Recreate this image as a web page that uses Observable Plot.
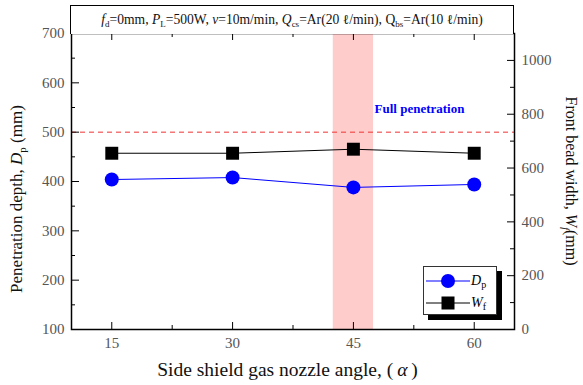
<!DOCTYPE html>
<html><head><meta charset="utf-8">
<script src="https://cdn.jsdelivr.net/npm/d3@7"></script>
<script src="https://cdn.jsdelivr.net/npm/@observablehq/plot@0.6"></script>
<style>
body{margin:0;background:#fff;font-family:"Liberation Serif",serif;}
#wrap{position:relative;width:583px;height:385px;}
#title{position:absolute;left:70px;top:5px;width:444px;height:29px;box-sizing:border-box;border:1.5px solid #000;border-bottom:none;font-size:13.6px;text-align:center;line-height:27px;color:#111;background:#fff;}
#title sub{font-size:9px;vertical-align:-3px;line-height:0;}
#legend{position:absolute;left:423px;top:266px;width:74px;height:49px;box-sizing:border-box;border:1px solid #333;background:#fff;box-shadow:5px 5px 0 #000;font-size:14px;}
.row{position:absolute;left:2px;height:20px;display:flex;align-items:center;}
.row i{font-style:italic;margin-left:1px;}
.row sub{font-size:10px;font-style:normal;vertical-align:-3px;line-height:0;}
</style></head>
<body>
<div id="wrap">
  <div id="chart"></div>
  <div id="title"><i>f</i><sub>d</sub>=0mm, <i>P</i><sub>L</sub>=500W, <i>v</i>=10m/min, <i>Q</i><sub>cs</sub>=Ar(20 ℓ/min), Q<sub>bs</sub>=Ar(10 ℓ/min)</div>
  <div id="legend">
    <div class="row" style="top:4px"><svg width="44" height="16"><line x1="0" y1="8" x2="44" y2="8" stroke="blue" stroke-width="1"/><circle cx="22" cy="8" r="7" fill="blue"/></svg><span><i>D</i><sub>p</sub></span></div>
    <div class="row" style="top:26px"><svg width="44" height="16"><line x1="0" y1="8" x2="44" y2="8" stroke="#000" stroke-width="1"/><rect x="15.5" y="1.5" width="13" height="13" fill="#000"/></svg><span><i>W</i><sub>f</sub></span></div>
  </div>
</div>
<script>
// ---- data ----
const angles = [15, 30, 45, 60];
const depth = [404, 408, 388, 394];          // Dp (mm), left axis
const beadWidth = [655, 655, 670, 655];      // Wf (mm), right axis
const xTicks = [15, 30, 45, 60];
const xMinorTicks = [22.5, 37.5, 52.5];
const leftTicks = [100, 200, 300, 400, 500, 600, 700];
const leftMinorTicks = [150, 250, 350, 450, 550, 650];
const rightTicks = [0, 200, 400, 600, 800, 1000];
const rightMinorTicks = [100, 300, 500, 700, 900];
const fullPenetration = 500;
const band = {x1: 42.5, x2: 47.5};

// ---- layout ----
const W = 583, H = 385, mL = 71, mR = 69, mT = 33, mB = 56;
const innerW = W - mL - mR, innerH = H - mT - mB;
const rightMax = 1100;
const toLeft = w => 100 + w * 600 / rightMax;
const fromLeft = v => String(Math.round((v - 100) * rightMax / 600));

const rows = angles.map((a, i) => ({angle: a, dp: depth[i], wf: toLeft(beadWidth[i])}));

const chart = Plot.plot({
  width: W, height: H, marginLeft: mL, marginRight: mR, marginTop: mT, marginBottom: mB,
  x: {domain: [10, 65]},
  y: {domain: [100, 700]},
  style: {fontFamily: "Liberation Serif", fontSize: "15px", background: "#fff", color: "#000"},
  marks: [
    Plot.rect([band], {x1: "x1", x2: "x2", fill: "#ffcccc"}),
    Plot.ruleY([fullPenetration], {stroke: "#ee3333", strokeDasharray: "5,4", strokeWidth: 1}),
    Plot.text([fullPenetration], {x: () => band.x2, y: d => d, text: () => "Full penetration", textAnchor: "start", dx: 1, dy: -23, fill: "blue", fontWeight: "bold", fontSize: 13}),
    Plot.line(rows, {x: "angle", y: "wf", stroke: "#000", strokeWidth: 1}),
    Plot.dot(rows, {x: "angle", y: "wf", symbol: "square", r: 7.3, fill: "#000"}),
    Plot.line(rows, {x: "angle", y: "dp", stroke: "blue", strokeWidth: 1}),
    Plot.dot(rows, {x: "angle", y: "dp", symbol: "circle", r: 7, fill: "blue"}),
    Plot.frame({stroke: "#000", strokeWidth: 1.5}),
    Plot.tickY(leftTicks, {insetRight: innerW - 8, stroke: "#000"}),
    Plot.tickY(leftMinorTicks, {insetRight: innerW - 4, stroke: "#000"}),
    Plot.tickY(rightTicks.map(toLeft), {insetLeft: innerW - 7, stroke: "#000"}),
    Plot.tickY(rightMinorTicks.map(toLeft), {insetLeft: innerW - 4, stroke: "#000"}),
    Plot.tickX(xTicks, {insetTop: innerH - 7, stroke: "#000"}),
    Plot.tickX(xTicks, {insetBottom: innerH - 7, stroke: "#000"}),
    Plot.tickX(xMinorTicks, {insetTop: innerH - 4, stroke: "#000"}),
    Plot.tickX(xMinorTicks, {insetBottom: innerH - 4, stroke: "#000"}),
    Plot.axisY(leftTicks, {anchor: "left", tickSize: 0, tickPadding: 7, label: null, fill: "#555"}),
    Plot.axisY(rightTicks.map(toLeft), {anchor: "right", tickSize: 0, tickPadding: 7, tickFormat: fromLeft, label: null, fill: "#555"}),
    Plot.axisX(xTicks, {anchor: "bottom", tickSize: 0, tickPadding: 8, label: null, fill: "#555"})
  ]
});
document.getElementById("chart").appendChild(chart);

// ---- axis titles with italics / subscripts ----
const svg = d3.select(chart);
const lt = svg.append("text").attr("transform", `translate(22,${mT + innerH / 2 + 18}) rotate(-90)`)
  .attr("text-anchor", "middle").attr("font-size", 17).attr("fill", "#111").attr("font-family", "Liberation Serif");
lt.append("tspan").text("Penetration depth, ");
lt.append("tspan").attr("font-style", "italic").text("D");
lt.append("tspan").attr("font-size", 11).attr("dy", 4).text("p");
lt.append("tspan").attr("dy", -4).text(" (mm)");

const rt = svg.append("text").attr("transform", `translate(566,${mT + innerH / 2}) rotate(90)`)
  .attr("text-anchor", "middle").attr("font-size", 16).attr("fill", "#111").attr("font-family", "Liberation Serif");
rt.append("tspan").text("Front bead width, ");
rt.append("tspan").attr("font-style", "italic").text("W");
rt.append("tspan").attr("font-size", 10).attr("font-style", "italic").attr("dy", 4).text("f");
rt.append("tspan").attr("dy", -4).text("(mm)");

const xt = svg.append("text").attr("x", mL + innerW / 2 - 5).attr("y", 376)
  .attr("text-anchor", "middle").attr("font-size", 19.5).attr("fill", "#111").attr("font-family", "Liberation Serif");
xt.append("tspan").text("Side shield gas nozzle angle, (\u2009");
xt.append("tspan").attr("font-style", "italic").text("α");
xt.append("tspan").text("\u2009)");
</script>
</body></html>
